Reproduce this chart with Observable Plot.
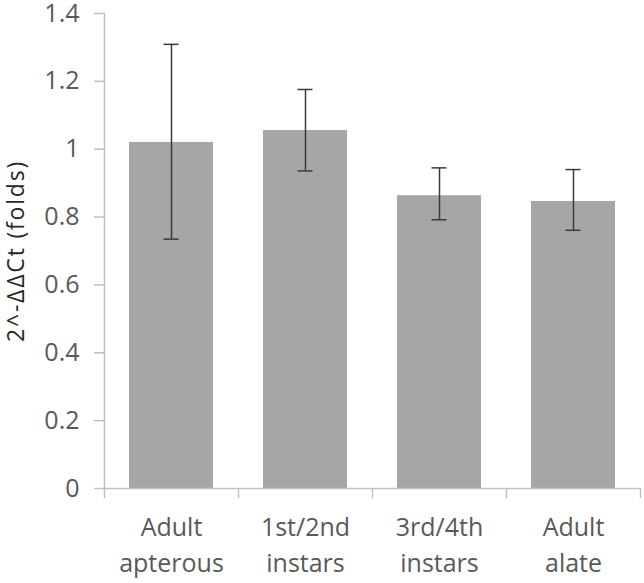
<!DOCTYPE html>
<html>
<head>
<meta charset="utf-8">
<script src="https://cdn.jsdelivr.net/npm/d3@7"></script>
<script src="https://cdn.jsdelivr.net/npm/@observablehq/plot@0.6"></script>
<style>
  html, body { margin: 0; padding: 0; background: #fff; }
  #chart { width: 644px; height: 583px; }
  g[aria-label="y-axis label"] text { letter-spacing: 1.8px; }
</style>
</head>
<body>
<div id="chart"></div>
<script>
const categories = ["Adult\napterous", "1st/2nd\ninstars", "3rd/4th\ninstars", "Adult\nalate"];
const means = [1.020, 1.055, 0.863, 0.846];
const errLow = [0.735, 0.936, 0.792, 0.761];
const errHigh = [1.309, 1.176, 0.945, 0.940];
const yTicks = [0, 0.2, 0.4, 0.6, 0.8, 1, 1.2, 1.4];
const yTickLabels = ["0", "0.2", "0.4", "0.6", "0.8", "1", "1.2", "1.4"];
const yLabel = "2^-ΔΔCt (folds)";

const data = categories.map((c, i) => ({cat: c, mean: means[i], lo: errLow[i], hi: errHigh[i]}));

const step = (640 - 104) / 4;
const axisColor = "#c0c0c0";

const chart = Plot.plot({
  width: 644,
  height: 583,
  marginTop: 13,
  marginBottom: 95,
  marginLeft: 104,
  marginRight: 4,
  style: {fontFamily: "'Open Sans', sans-serif", background: "#fff", overflow: "visible"},
  x: {domain: categories, paddingInner: 0.375, paddingOuter: 0.1875},
  y: {domain: [0, 1.4]},
  marks: [
    Plot.barY(data, {x: "cat", y: "mean", fill: "#a6a6a6"}),
    Plot.ruleX(data, {x: "cat", y1: "lo", y2: "hi", stroke: "#3a3a3a", strokeWidth: 1.5}),
    Plot.tickY(data, {x: "cat", y: "lo", stroke: "#3a3a3a", strokeWidth: 1.5, insetLeft: 34.5, insetRight: 34.5}),
    Plot.tickY(data, {x: "cat", y: "hi", stroke: "#3a3a3a", strokeWidth: 1.5, insetLeft: 34.5, insetRight: 34.5}),
    Plot.frame({anchor: "left", stroke: axisColor, strokeWidth: 1.5}),
    Plot.ruleY([0], {stroke: axisColor, strokeWidth: 1.5}),
    Plot.ruleX(categories, {x: d => d, dx: -step / 2, y1: 0, y2: -0.03, stroke: axisColor, strokeWidth: 1.5}),
    Plot.ruleX(categories.slice(-1), {x: d => d, dx: step / 2, y1: 0, y2: -0.03, stroke: axisColor, strokeWidth: 1.5}),
    Plot.axisY({
      ticks: yTicks,
      tickFormat: (d) => yTickLabels[yTicks.indexOf(d)],
      tickSize: 10,
      tickPadding: 15,
      stroke: axisColor,
      strokeWidth: 1.5,
      fill: "#595959",
      fontSize: 25,
      label: null
    }),
    Plot.axisY({
      ticks: [],
      label: yLabel,
      labelAnchor: "center",
      labelArrow: "none",
      labelOffset: 97,
      fill: "#262626",
      fontSize: 23
    }),
    Plot.axisX({
      tickSize: 0,
      tickPadding: 22,
      fill: "#595959",
      fontSize: 25,
      lineHeight: 1.44,
      label: null
    })
  ]
});
document.getElementById("chart").appendChild(chart);
</script>
</body>
</html>
